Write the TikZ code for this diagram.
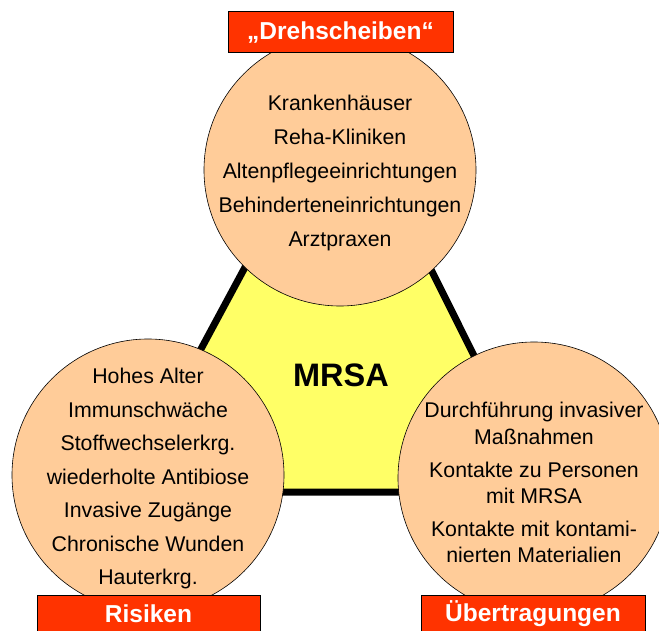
\documentclass[tikz,border=0pt]{standalone}
\usepackage{fontspec}
\setmainfont{Liberation Sans}
\definecolor{triyellow}{HTML}{FFFF66}
\definecolor{peach}{HTML}{FFCC99}
\definecolor{labelred}{HTML}{FF3300}
\begin{document}
\begin{tikzpicture}[x=1pt,y=-1pt,
  circ/.style={circle, draw=black, line width=0.6pt, fill=peach, minimum size=272pt, inner sep=0pt},
  circtext/.style={align=center, font=\fontsize{21.3}{34}\selectfont, inner sep=0pt},
  labelbox/.style={draw=black, line width=0.6pt, fill=labelred, inner sep=0pt},
  labeltext/.style={text=white, font=\fontsize{24.5}{28}\bfseries\selectfont, inner sep=0pt}
]
\useasboundingbox (0,0) rectangle (659,631);
% triangle
\coordinate (t1) at (341,89);
\coordinate (t2) at (124,492);
\coordinate (t3) at (542,492);
\draw[line width=7pt, fill=triyellow] (t1) -- (t2) -- (t3) -- cycle;
\node[font=\fontsize{32.5}{36}\bfseries\selectfont] (mrsa) at (341,375) {MRSA};
% circles
\node[circ] (top) at (340,170) {};
\node[circ] (left) at (148,475) {};
\node[circ] (right) at (534,478) {};
\node[circtext] (toptext) at ([yshift=-3]top) {Krankenhäuser\\Reha-Kliniken\\Altenpflegeeinrichtungen\\Behinderteneinrichtungen\\Arztpraxen};
\node[circtext] (lefttext) at ([yshift=-3.5]left) {Hohes Alter\\[-0.5pt]Immunschwäche\\[-0.5pt]Stoffwechselerkrg.\\[-0.5pt]wiederholte Antibiose\\[-0.5pt]Invasive Zugänge\\[-0.5pt]Chronische Wunden\\[-0.5pt]Hauterkrg.};
\node[circtext] (righttext) at ([yshift=-4]right) {Durchführung invasiver\\[-7pt]Maßnahmen\\[-1pt]Kontakte zu Personen\\[-8pt]mit MRSA\\[-1pt]Kontakte mit kontami-\\[-8pt]nierten Materialien};
% labels
\node[labelbox, minimum width=225pt, minimum height=41pt] (dreh) at (340.5,31.5) {};
\node[labeltext] (drehtext) at (340.5,33) {„Drehscheiben“};
\node[labelbox, minimum width=223pt, minimum height=45pt] (ris) at (148.5,617.5) {};
\node[labeltext] (ristext) at (148.5,614) {Risiken};
\node[labelbox, minimum width=224pt, minimum height=45pt] (ueb) at (533,617.5) {};
\node[labeltext] (uebtext) at (533,614) {Übertragungen};
\end{tikzpicture}
\end{document}
